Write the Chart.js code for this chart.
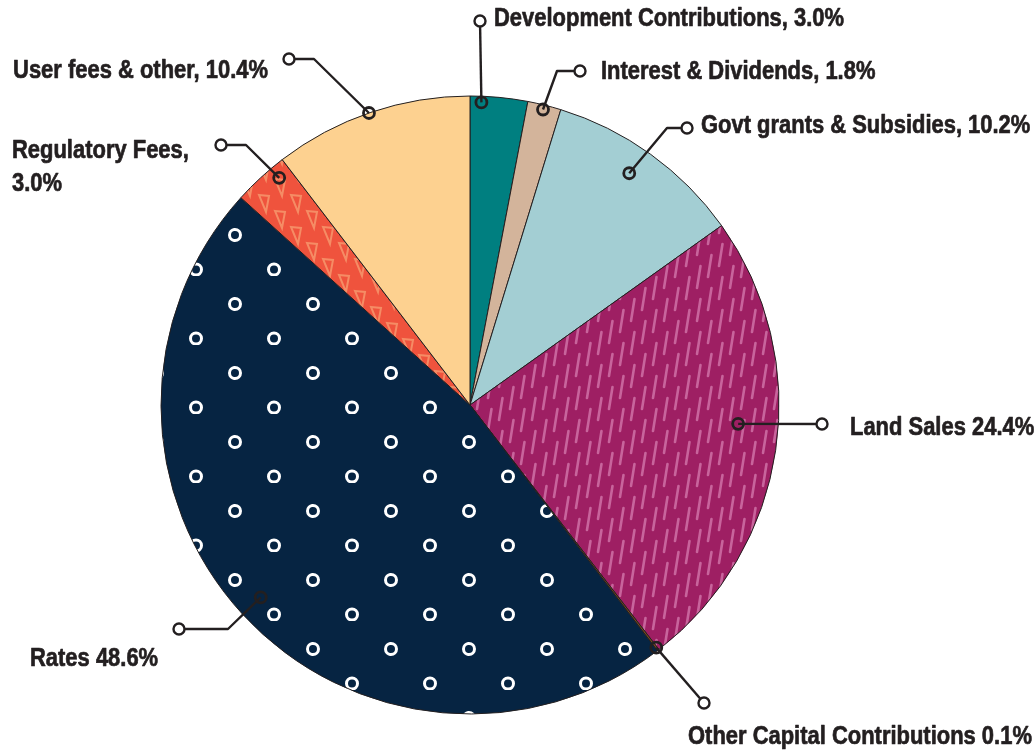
<!DOCTYPE html>
<html>
<head>
<meta charset="utf-8">
<script src="https://cdn.jsdelivr.net/npm/chart.js@4/dist/chart.umd.min.js"></script>
<style>
  html, body { margin: 0; padding: 0; background: #fff; }
  #wrap { width: 1036px; height: 750px; position: relative; }
</style>
</head>
<body>
<div id="wrap"><canvas id="pieChart"></canvas></div>
<script>
// Kategorier och värden
const categories = [
    'Development Contributions', 'Interest & Dividends', 'Govt grants & Subsidies',
    'Land Sales', 'Other Capital Contributions', 'Rates', 'Regulatory Fees', 'User fees & other'
];
const sliceValues = [3.0, 1.75, 10.4, 24.4, 0.1, 47.1, 2.9, 10.4];
const labelTexts = [
    ['Development Contributions, 3.0%'],
    ['Interest & Dividends, 1.8%'],
    ['Govt grants & Subsidies, 10.2%'],
    ['Land Sales 24.4%'],
    ['Other Capital Contributions 0.1%'],
    ['Rates 48.6%'],
    ['Regulatory Fees,', '3.0%'],
    ['User fees & other, 10.4%']
];

const INK = '#231f20';
const LABEL_FONT = 'bold 26px "Liberation Sans", Arial, sans-serif';

// Mönster för segmenten
function makeTile(w, h, bg, draw) {
    const c = document.createElement('canvas');
    c.width = w; c.height = h;
    const g = c.getContext('2d');
    g.fillStyle = bg;
    g.fillRect(0, 0, w, h);
    draw(g);
    return c;
}

function dotPattern(ctx) {
    const tile = makeTile(78, 69, '#062442', g => {
        g.strokeStyle = '#ffffff';
        g.lineWidth = 3;
        [[1, 28], [79, 28], [40, 62.5]].forEach(p => {
            g.beginPath();
            g.arc(p[0], p[1], 5.5, 0, Math.PI * 2);
            g.stroke();
        });
    });
    return ctx.createPattern(tile, 'repeat');
}

function dashPattern(ctx) {
    const tile = makeTile(33, 33, '#9e1f63', g => {
        g.strokeStyle = '#c8649c';
        g.lineWidth = 2.6;
        g.lineCap = 'round';
        [0, 1, 2].forEach(i => {
            const x = 4 + i * 11;
            const y0 = (i * 22) % 33;
            [-33, 0, 33].forEach(dy => {
                g.beginPath();
                g.moveTo(x, y0 + dy + 24);
                g.lineTo(x + 3.5, y0 + dy + 2);
                g.stroke();
            });
        });
    });
    return ctx.createPattern(tile, 'repeat');
}

function trianglePattern(ctx) {
    const tile = makeTile(32, 32, '#ef533d', g => {
        g.strokeStyle = '#f58c65';
        g.lineWidth = 2;
        const tri = (x, y) => {
            g.beginPath();
            g.moveTo(x, y);
            g.lineTo(x + 10, y + 1);
            g.lineTo(x + 7, y + 17);
            g.closePath();
            g.stroke();
        };
        [[3, 3], [19, 19], [19, -13], [-13, 19]].forEach(p => tri(p[0], p[1]));
    });
    return ctx.createPattern(tile, 'repeat');
}

// Etiketter med ledarlinjer: t = andel längs segmentets vinkel, r = andel av radien
const labelLayout = [
    { t: 0.2, r: 0.98, path: [[480, 21]], tx: 494, ty: 18, align: 'left' },
    { t: 0.49, r: 0.985, path: [[557, 71], [580, 71]], tx: 601, ty: 71, align: 'left' },
    { t: 0.465, r: 0.91, path: [[667, 128], [687, 128]], tx: 701, ty: 125, align: 'left' },
    { t: 0.45, r: 0.87, path: [[822, 424]], tx: 850, ty: 427, align: 'left' },
    { t: 0.5, r: 0.99, path: [[704, 703]], tx: 688, ty: 736, align: 'left' },
    { t: 0.5, r: 0.92, path: [[228, 629], [179, 629]], tx: 30, ty: 658, align: 'left' },
    { t: 0.75, r: 0.96, path: [[246, 145], [221, 145]], tx: 12, ty: 150, align: 'left' },
    { t: 0.49, r: 1.0, path: [[314, 59], [289, 59]], tx: 268, ty: 70, align: 'right' }
];

const leaderPlugin = {
    id: 'leaders',
    afterDatasetsDraw(chart) {
        const ctx = chart.ctx;
        const arcs = chart.getDatasetMeta(0).data;
        ctx.save();
        // smal (kondenserad) stil: skala texten så att första etiketten blir ca 350 px bred
        ctx.font = LABEL_FONT;
        const sx = 350 / ctx.measureText(labelTexts[0][0]).width;

        labelLayout.forEach((lay, i) => {
            const a = arcs[i].getProps(['x', 'y', 'startAngle', 'endAngle', 'outerRadius'], true);
            const ang = a.startAngle + lay.t * (a.endAngle - a.startAngle);
            const ax = a.x + Math.cos(ang) * a.outerRadius * lay.r;
            const ay = a.y + Math.sin(ang) * a.outerRadius * lay.r;
            const end = lay.path[lay.path.length - 1];

            ctx.strokeStyle = INK;
            ctx.lineWidth = 2.4;
            ctx.beginPath();
            ctx.moveTo(ax, ay);
            lay.path.forEach(p => ctx.lineTo(p[0], p[1]));
            ctx.stroke();

            // ring på segmentet
            ctx.lineWidth = 2.8;
            ctx.beginPath();
            ctx.arc(ax, ay, 5.5, 0, Math.PI * 2);
            ctx.stroke();

            // vit ring i änden
            ctx.fillStyle = '#ffffff';
            ctx.lineWidth = 2.4;
            ctx.beginPath();
            ctx.arc(end[0], end[1], 5.5, 0, Math.PI * 2);
            ctx.fill();
            ctx.stroke();

            ctx.fillStyle = INK;
            ctx.strokeStyle = INK;
            ctx.lineWidth = 0.7;
            ctx.lineJoin = 'round';
            ctx.font = LABEL_FONT;
            ctx.textAlign = lay.align;
            ctx.textBaseline = 'middle';
            labelTexts[i].forEach((line, j) => {
                ctx.save();
                ctx.translate(lay.tx, lay.ty + j * 33);
                ctx.scale(sx, 1);
                ctx.fillText(line, 0, 1);
                ctx.strokeText(line, 0, 1);
                ctx.restore();
            });
        });
        ctx.restore();
    }
};

const ctx = document.getElementById('pieChart').getContext('2d');

new Chart(ctx, {
    type: 'pie',
    data: {
        labels: categories,
        datasets: [{
            data: sliceValues,
            backgroundColor: [
                '#007f80',
                '#d3b49b',
                '#a3ced3',
                dashPattern(ctx),
                '#7a4a1c',
                dotPattern(ctx),
                trianglePattern(ctx),
                '#fdd190'
            ],
            borderColor: INK,
            borderWidth: 1
        }]
    },
    options: {
        responsive: true,
        maintainAspectRatio: false,
        animation: false,
        events: [],
        radius: 309,
        layout: { padding: { left: 0, right: 96, top: 60, bottom: 0 } },
        plugins: {
            legend: { display: false },
            tooltip: { enabled: false }
        }
    },
    plugins: [leaderPlugin]
});
</script>
</body>
</html>
